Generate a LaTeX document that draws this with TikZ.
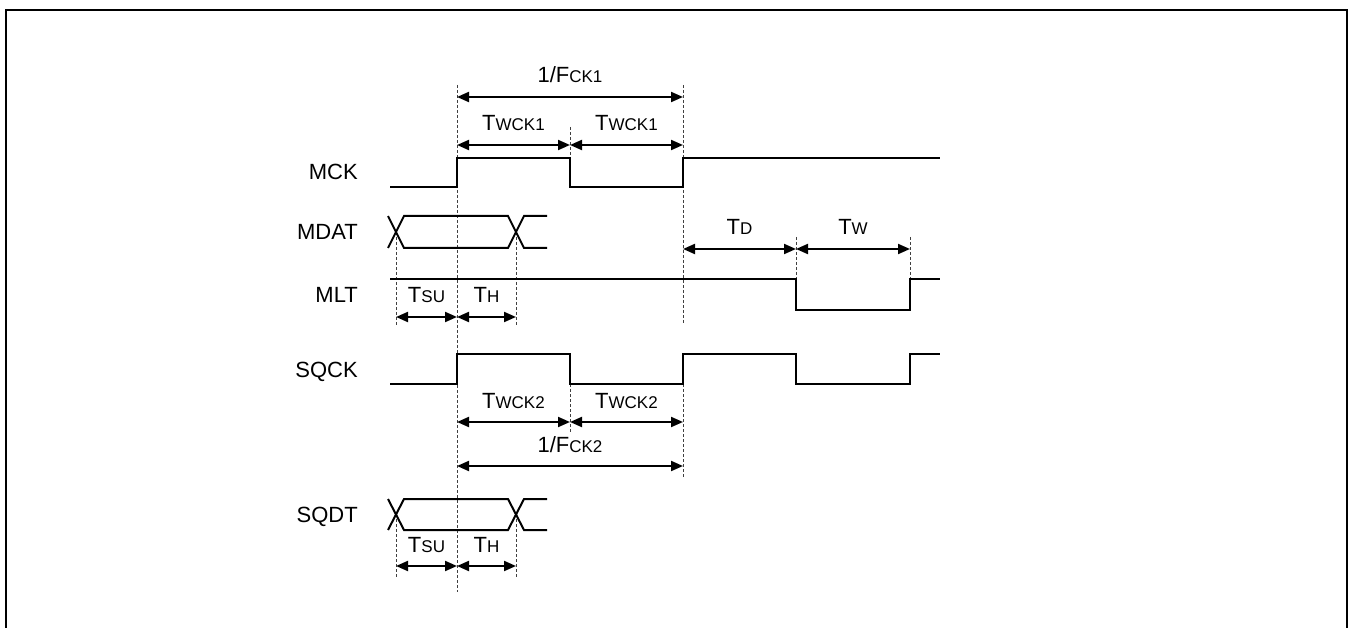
\documentclass[tikz,border=0pt]{standalone}
\usepackage{fontspec}
\setmainfont{Liberation Sans}
\usetikzlibrary{arrows.meta}
\newcommand{\sm}[1]{{\fontsize{17}{17}\selectfont #1}}

\begin{document}
\begin{tikzpicture}[x=1pt, y=-1pt,
    every node/.style={font=\fontsize{22}{26}\selectfont, inner sep=0pt},
    wave/.style={line width=2pt},
    guide/.style={black!75, line width=0.8pt, dash pattern=on 3pt off 2pt},
    dim/.style={line width=2pt, {Triangle[length=12pt,width=10pt]}-{Triangle[length=12pt,width=10pt]}},
    lbl/.style={midway, anchor=base, yshift=14pt},
    signame/.style={anchor=base east}]
  \useasboundingbox (0,0) rectangle (1350,628);
  \draw[line width=2.5pt] (6,628) -- (6,10) -- (1347,10) -- (1347,628);

  % edge times and dimension rows
  \coordinate (xs) at (396,0);
  \coordinate (xr) at (457,0);
  \coordinate (xh) at (516,0);
  \coordinate (xf) at (570,0);
  \coordinate (xn) at (683,0);
  \coordinate (xd) at (796,0);
  \coordinate (xw) at (910,0);
  \coordinate (yF1) at (0,97);
  \coordinate (yW1) at (0,145);
  \coordinate (yD) at (0,249);
  \coordinate (yS1) at (0,317);
  \coordinate (yW2) at (0,422);
  \coordinate (yF2) at (0,466);
  \coordinate (yS2) at (0,566);

  % guides
  \draw[guide] (457,85) -- (457,592);
  \draw[guide] (683,85) -- (683,323);
  \draw[guide] (683,384) -- (683,477);
  \draw[guide] (570,127) -- (570,158);
  \draw[guide] (570,384) -- (570,433);
  \draw[guide] (796,237) -- (796,279);
  \draw[guide] (910,237) -- (910,279);
  \draw[guide] (396,232) -- (396,325);
  \draw[guide] (516,232) -- (516,325);
  \draw[guide] (396,514) -- (396,577);
  \draw[guide] (516,514) -- (516,577);

  % signal names
  \node[signame] (mck) at (358,180) {MCK};
  \node[signame] (mdat) at (358,240) {MDAT};
  \node[signame] (mlt) at (358,302.5) {MLT};
  \node[signame] (sqck) at (358,377.5) {SQCK};
  \node[signame] (sqdt) at (358,522) {SQDT};

  % waveforms
  \draw[wave] (390,187) -| (457,158) -| (570,187) -| (683,158) -- (940,158);
  \draw[wave] (388,216) -- (404,248) -- (508,248) -- (524,216) -- (547,216);
  \draw[wave] (388,248) -- (404,216) -- (508,216) -- (524,248) -- (547,248);
  \draw[wave] (390,279) -- (796,279) -- (796,310) -- (910,310) -- (910,279) -- (940,279);
  \draw[wave] (390,384) -| (457,354) -| (570,384) -| (683,354) -| (796,384) -| (910,354) -- (940,354);
  \draw[wave] (388,499) -- (404,530) -- (508,530) -- (524,499) -- (547,499);
  \draw[wave] (388,530) -- (404,499) -- (508,499) -- (524,530) -- (547,530);

  % timing arrows
  \draw[dim] (xr |- yF1) -- (xn |- yF1) node[lbl] {1/F\sm{CK1}};
  \draw[dim] (xr |- yW1) -- (xf |- yW1) node[lbl] {T\sm{WCK1}};
  \draw[dim] (xf |- yW1) -- (xn |- yW1) node[lbl] {T\sm{WCK1}};
  \draw[dim] (xn |- yD) -- (xd |- yD) node[lbl] {T\sm{D}};
  \draw[dim] (xd |- yD) -- (xw |- yD) node[lbl] {T\sm{W}};
  \draw[dim] (xs |- yS1) -- (xr |- yS1) node[lbl] {T\sm{SU}};
  \draw[dim] (xr |- yS1) -- (xh |- yS1) node[lbl] {T\sm{H}};
  \draw[dim] (xr |- yW2) -- (xf |- yW2) node[lbl] {T\sm{WCK2}};
  \draw[dim] (xf |- yW2) -- (xn |- yW2) node[lbl] {T\sm{WCK2}};
  \draw[dim] (xr |- yF2) -- (xn |- yF2) node[lbl] {1/F\sm{CK2}};
  \draw[dim] (xs |- yS2) -- (xr |- yS2) node[lbl] {T\sm{SU}};
  \draw[dim] (xr |- yS2) -- (xh |- yS2) node[lbl] {T\sm{H}};
\end{tikzpicture}
\end{document}
